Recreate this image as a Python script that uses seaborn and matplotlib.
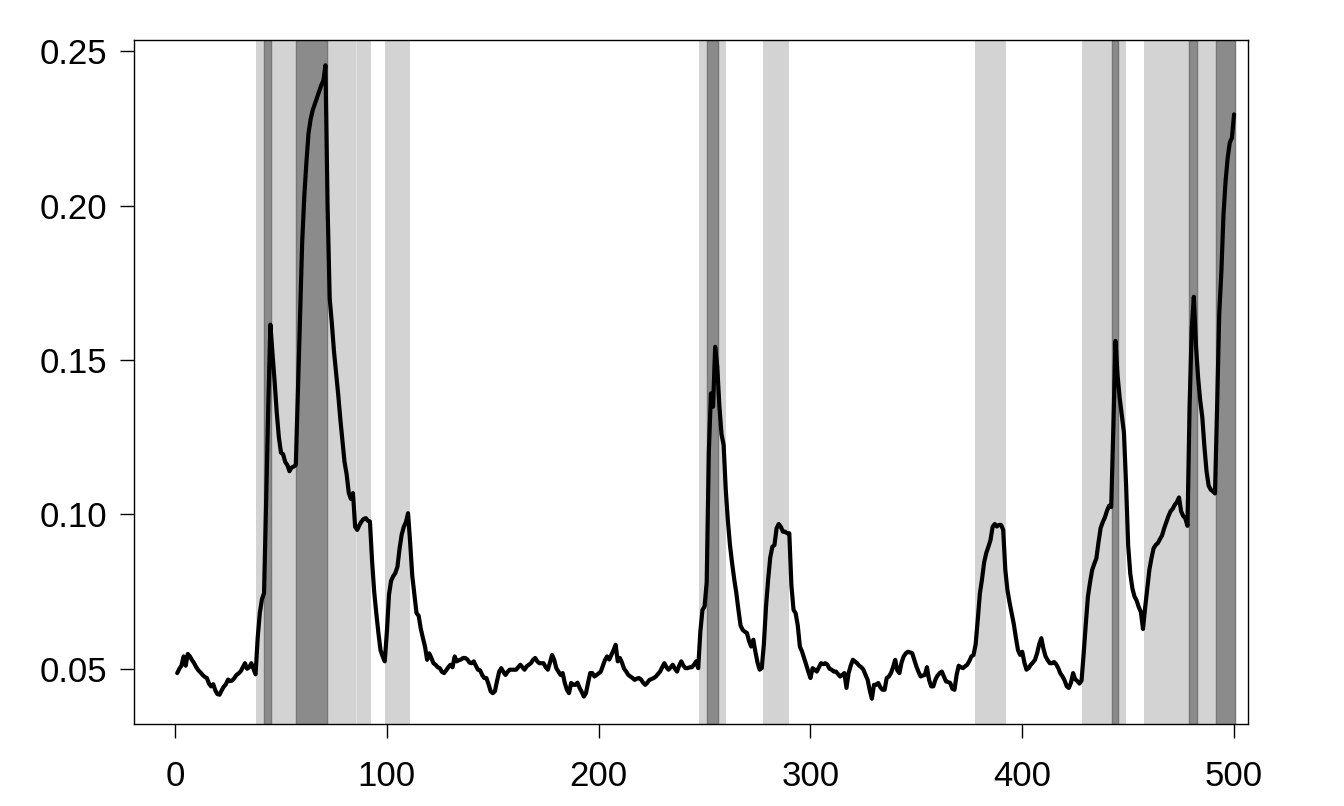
import numpy as np
import pandas as pd
import matplotlib
matplotlib.use("Agg")
import matplotlib.pyplot as plt
import seaborn as sns

# ---- data ----
y_vals = [
    0.0486, 0.0500, 0.0510, 0.0540, 0.0510, 0.0548, 0.0540, 0.0528, 0.0518, 0.0505,
    0.0495, 0.0488, 0.0480, 0.0474, 0.0470, 0.0452, 0.0443, 0.0450, 0.0430, 0.0418,
    0.0416, 0.0430, 0.0442, 0.0450, 0.0465, 0.0460, 0.0462, 0.0470, 0.0480, 0.0485,
    0.0492, 0.0505, 0.0518, 0.0500, 0.0505, 0.0518, 0.0500, 0.0482, 0.0600, 0.0680,
    0.0725, 0.0745, 0.1050, 0.1350, 0.1615, 0.1520, 0.1430, 0.1330, 0.1250, 0.1200,
    0.1195, 0.1170, 0.1160, 0.1140, 0.1152, 0.1155, 0.1160, 0.1400, 0.1650, 0.1880,
    0.2030, 0.2140, 0.2235, 0.2280, 0.2310, 0.2330, 0.2350, 0.2371, 0.2390, 0.2405,
    0.2455, 0.2000, 0.1700, 0.1620, 0.1530, 0.1460, 0.1390, 0.1310, 0.1240, 0.1170,
    0.1130, 0.1070, 0.1050, 0.1069, 0.0960, 0.0950, 0.0965, 0.0977, 0.0985, 0.0988,
    0.0980, 0.0977, 0.0850, 0.0750, 0.0680, 0.0616, 0.0560, 0.0540, 0.0524, 0.0620,
    0.0740, 0.0785, 0.0800, 0.0810, 0.0831, 0.0890, 0.0935, 0.0960, 0.0975, 0.1004,
    0.0907, 0.0800, 0.0740, 0.0680, 0.0672, 0.0630, 0.0600, 0.0572, 0.0529, 0.0550,
    0.0535, 0.0518, 0.0513, 0.0505, 0.0502, 0.0490, 0.0486, 0.0495, 0.0505, 0.0513,
    0.0505, 0.0540, 0.0524, 0.0528, 0.0530, 0.0535, 0.0535, 0.0530, 0.0520, 0.0518,
    0.0524, 0.0510, 0.0497, 0.0495, 0.0480, 0.0470, 0.0470, 0.0450, 0.0427, 0.0421,
    0.0427, 0.0460, 0.0490, 0.0502, 0.0490, 0.0480, 0.0490, 0.0497, 0.0497, 0.0497,
    0.0497, 0.0505, 0.0513, 0.0505, 0.0497, 0.0508, 0.0513, 0.0518, 0.0529, 0.0535,
    0.0524, 0.0518, 0.0518, 0.0518, 0.0505, 0.0497, 0.0520, 0.0545, 0.0529, 0.0502,
    0.0491, 0.0480, 0.0486, 0.0454, 0.0432, 0.0421, 0.0454, 0.0448, 0.0448, 0.0455,
    0.0438, 0.0425, 0.0410, 0.0421, 0.0455, 0.0486, 0.0486, 0.0475, 0.0480, 0.0485,
    0.0491, 0.0510, 0.0529, 0.0540, 0.0530, 0.0545, 0.0560, 0.0578, 0.0524, 0.0535,
    0.0520, 0.0500, 0.0491, 0.0480, 0.0475, 0.0470, 0.0464, 0.0468, 0.0470, 0.0465,
    0.0455, 0.0448, 0.0455, 0.0464, 0.0467, 0.0470, 0.0475, 0.0483, 0.0491, 0.0505,
    0.0518, 0.0505, 0.0497, 0.0505, 0.0513, 0.0500, 0.0491, 0.0510, 0.0524, 0.0510,
    0.0502, 0.0502, 0.0505, 0.0505, 0.0513, 0.0524, 0.0502, 0.0620, 0.0690, 0.0702,
    0.0780, 0.1200, 0.1392, 0.1349, 0.1543, 0.1478, 0.1350, 0.1260, 0.1225, 0.1080,
    0.0980, 0.0900, 0.0842, 0.0790, 0.0745, 0.0690, 0.0640, 0.0626, 0.0620, 0.0616,
    0.0590, 0.0572, 0.0594, 0.0555, 0.0520, 0.0497, 0.0502, 0.0580, 0.0700, 0.0788,
    0.0860, 0.0895, 0.0901, 0.0955, 0.0969, 0.0960, 0.0944, 0.0944, 0.0939, 0.0939,
    0.0770, 0.0691, 0.0680, 0.0640, 0.0572, 0.0556, 0.0535, 0.0513, 0.0490, 0.0470,
    0.0502, 0.0497, 0.0491, 0.0505, 0.0518, 0.0515, 0.0518, 0.0513, 0.0500, 0.0497,
    0.0491, 0.0491, 0.0483, 0.0475, 0.0480, 0.0486, 0.0438, 0.0486, 0.0510, 0.0529,
    0.0524, 0.0518, 0.0510, 0.0505, 0.0497, 0.0480, 0.0464, 0.0430, 0.0403, 0.0448,
    0.0448, 0.0454, 0.0440, 0.0432, 0.0432, 0.0470, 0.0475, 0.0486, 0.0505, 0.0529,
    0.0495, 0.0486, 0.0520, 0.0540, 0.0550, 0.0555, 0.0553, 0.0551, 0.0530, 0.0508,
    0.0490, 0.0475, 0.0478, 0.0480, 0.0505, 0.0464, 0.0443, 0.0443, 0.0465, 0.0478,
    0.0486, 0.0491, 0.0475, 0.0459, 0.0457, 0.0454, 0.0435, 0.0432, 0.0480, 0.0510,
    0.0505, 0.0502, 0.0508, 0.0513, 0.0525, 0.0540, 0.0545, 0.0580, 0.0660, 0.0745,
    0.0790, 0.0845, 0.0875, 0.0895, 0.0917, 0.0960, 0.0969, 0.0961, 0.0966, 0.0966,
    0.0950, 0.0820, 0.0755, 0.0715, 0.0680, 0.0645, 0.0600, 0.0560, 0.0545, 0.0555,
    0.0520, 0.0497, 0.0502, 0.0513, 0.0520, 0.0529, 0.0550, 0.0580, 0.0599, 0.0565,
    0.0540, 0.0528, 0.0518, 0.0518, 0.0522, 0.0515, 0.0502, 0.0485, 0.0475, 0.0462,
    0.0443, 0.0438, 0.0455, 0.0486, 0.0466, 0.0460, 0.0452, 0.0462, 0.0550, 0.0645,
    0.0734, 0.0780, 0.0820, 0.0840, 0.0858, 0.0910, 0.0956, 0.0975, 0.0990, 0.1012,
    0.1028, 0.1024, 0.1280, 0.1562, 0.1450, 0.1377, 0.1320, 0.1266, 0.1100, 0.0900,
    0.0808, 0.0760, 0.0734, 0.0721, 0.0700, 0.0684, 0.0629, 0.0697, 0.0760, 0.0820,
    0.0858, 0.0890, 0.0901, 0.0907, 0.0920, 0.0932, 0.0955, 0.0975, 0.0994, 0.1010,
    0.1018, 0.1031, 0.1040, 0.1055, 0.1010, 0.0995, 0.0987, 0.0963, 0.1350, 0.1600,
    0.1705, 0.1550, 0.1445, 0.1370, 0.1315, 0.1220, 0.1140, 0.1093, 0.1080, 0.1075,
    0.1068, 0.1350, 0.1650, 0.1785, 0.1970, 0.2080, 0.2156, 0.2205, 0.2220, 0.2296,
]
t_vals = list(range(1, len(y_vals) + 1))

# shaded regimes (start, end) in time units
light_bands = [(38.1, 92.4), (99.2, 110.7), (247.2, 260.0), (277.5, 290.0),
               (377.6, 392.1), (428.4, 449.2), (457.7, 500.4)]
dark_bands = [(42.0, 45.5), (57.2, 71.7), (251.1, 256.2), (442.4, 445.2),
              (478.5, 482.3), (491.6, 500.4)]

x_ticks = [0, 100, 200, 300, 400, 500]
y_ticks = [0.05, 0.10, 0.15, 0.20, 0.25]
y_tick_labels = ["0.05", "0.10", "0.15", "0.20", "0.25"]

df = pd.DataFrame({"t": t_vals, "value": y_vals})

# ---- plot ----
sns.set_style("white")
plt.rcParams["font.family"] = ["Liberation Sans", "DejaVu Sans"]

fig = plt.figure(figsize=(13.44, 8.06), dpi=100)
ax = fig.add_axes([0.0997, 0.1017, 0.8289, 0.8487])

for a, b in light_bands:
    ax.axvspan(a, b, color="#d3d3d3", lw=0, zorder=1)
ax.axvline(85.5, color="#e2e2e2", lw=0.8, zorder=1.2)
for a, b in dark_bands:
    ax.axvspan(a, b, facecolor="#8b8b8b", edgecolor="#777777", lw=1.0, zorder=1.5)

sns.lineplot(data=df, x="t", y="value", ax=ax, color="black", linewidth=3.0,
             zorder=3, estimator=None)

ax.set_xlim(-19.4, 506.6)
ax.set_ylim(0.0321, 0.2537)
ax.set_xticks(x_ticks)
ax.set_xticklabels([str(v) for v in x_ticks])
ax.set_yticks(y_ticks)
ax.set_yticklabels(y_tick_labels)
ax.set_xlabel("")
ax.set_ylabel("")
ax.grid(False)

for s in ax.spines.values():
    s.set_visible(True)
    s.set_color("black")
    s.set_linewidth(1.0)

ax.tick_params(axis="both", which="major", direction="out", length=10,
               width=1.0, color="black", labelsize=25, labelcolor="black",
               left=True, bottom=True)
ax.tick_params(axis="y", pad=9)
ax.tick_params(axis="x", pad=16)

fig.savefig("out.png", dpi=100, facecolor="white")
